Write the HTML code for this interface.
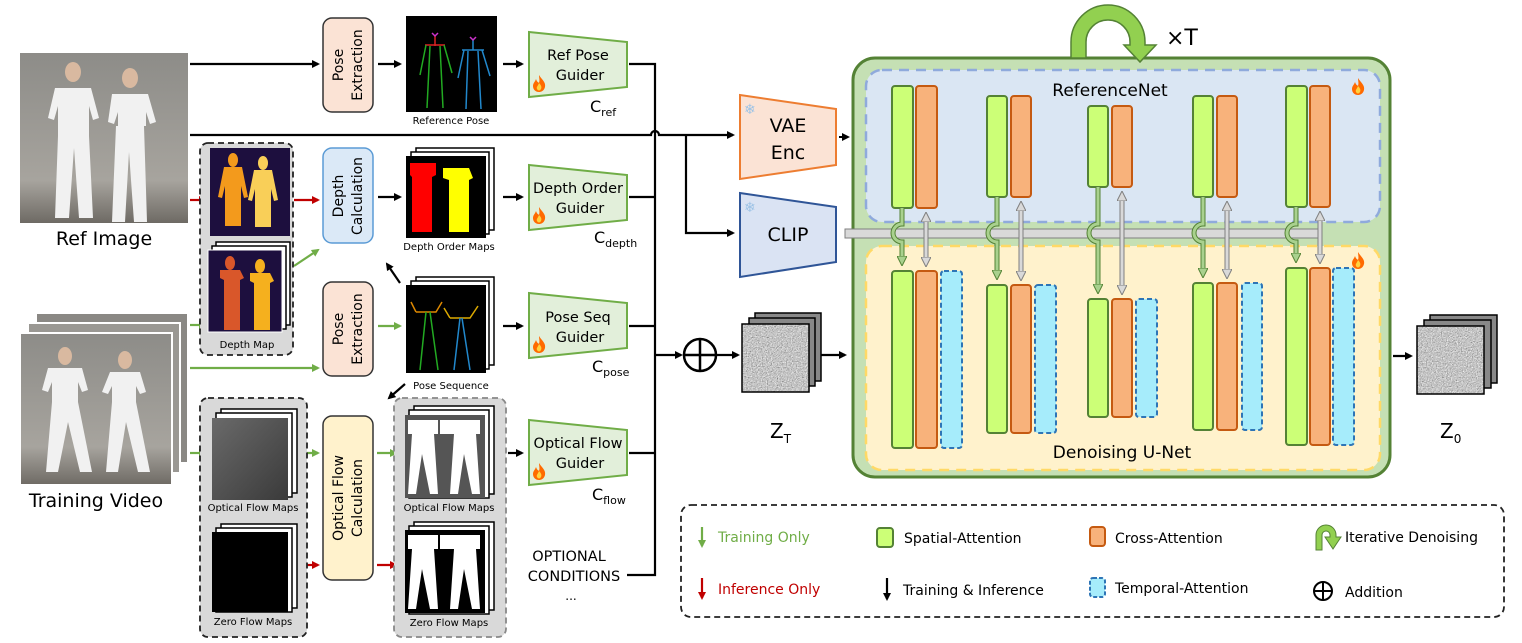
<!DOCTYPE html>
<html><head><meta charset="utf-8"><style>
html,body{margin:0;padding:0;background:#fff;}
svg{display:block;font-family:"DejaVu Sans","Liberation Sans",sans-serif;}
</style></head><body>
<svg width="1522" height="643" viewBox="0 0 1522 643" xmlns="http://www.w3.org/2000/svg">
<defs>
<marker id="ab" markerWidth="8" markerHeight="8" refX="6" refY="4" orient="auto" markerUnits="userSpaceOnUse"><path d="M0,0 L8,4 L0,8 z" fill="#000"/></marker>
<marker id="ag" markerWidth="8" markerHeight="8" refX="6" refY="4" orient="auto" markerUnits="userSpaceOnUse"><path d="M0,0 L8,4 L0,8 z" fill="#70ad47"/></marker>
<marker id="ar" markerWidth="8" markerHeight="8" refX="6" refY="4" orient="auto" markerUnits="userSpaceOnUse"><path d="M0,0 L8,4 L0,8 z" fill="#c00000"/></marker>
<marker id="agd" markerWidth="10" markerHeight="10" refX="7" refY="5" orient="auto" markerUnits="userSpaceOnUse"><path d="M0,0 L10,5 L0,10 z" fill="#a9d18e" stroke="#548235" stroke-width="1"/></marker>
<marker id="agr" markerWidth="10" markerHeight="10" refX="7" refY="5" orient="auto-start-reverse" markerUnits="userSpaceOnUse"><path d="M0,0 L10,5 L0,10 z" fill="#d9d9d9" stroke="#7f7f7f" stroke-width="1"/></marker>
<filter id="noise" x="0" y="0" width="100%" height="100%"><feTurbulence type="fractalNoise" baseFrequency="0.8" numOctaves="2"/><feColorMatrix type="matrix" values="0.6 0.6 0.6 0 -0.35  0.6 0.6 0.6 0 -0.35  0.6 0.6 0.6 0 -0.35  0 0 0 0 1"/></filter>
<linearGradient id="photo" x1="0" y1="0" x2="0" y2="1"><stop offset="0" stop-color="#8d8c88"/><stop offset="0.75" stop-color="#a7a49e"/><stop offset="1" stop-color="#6e6a64"/></linearGradient>
<linearGradient id="flowg" x1="0" y1="0" x2="1" y2="1"><stop offset="0" stop-color="#6a6a6a"/><stop offset="1" stop-color="#3a3a3a"/></linearGradient>
<g id="fire"><path d="M6,0 C9,5 13,7 12,12 C11,16 8,17 6,17 C2,17 0,14 0,11 C0,8 2,7 3,4 C4,7 5,7 6,8 C7,5 6,3 6,0z" fill="#ff6a00"/><path d="M6,8 C8,10 9,12 8,14 C7,16 5,16 4,14 C3,12 5,11 6,8z" fill="#ffd23f"/></g>
</defs>

<!-- ===== Ref image ===== -->
<rect x="20" y="53" width="168" height="170" fill="url(#photo)"/>
<g fill="#f1f1f1">
<ellipse cx="73" cy="72" rx="8" ry="10" fill="#d9b9a0"/>
<path d="M55,88 h36 l8,30 -6,2 -4,-14 v30 l4,82 h-14 l-5,-70 -5,70 h-14 l3,-82 v-30 l-4,14 -6,-2z"/>
<ellipse cx="130" cy="78" rx="8" ry="10" fill="#d9b9a0"/>
<path d="M112,94 h36 l8,28 -6,2 -4,-12 v14 h-28 v-14 l-4,12 -6,-2z"/>
<path d="M116,126 h28 l3,96 h-13 l-5,-70 -4,70 h-13z"/>
</g>
<text x="104" y="245" font-size="19" text-anchor="middle">Ref Image</text>

<!-- ===== Training video ===== -->
<rect x="36" y="313" width="152" height="150" fill="#8a8884" stroke="#fff" stroke-width="2"/>
<rect x="28" y="323" width="152" height="150" fill="#9a9893" stroke="#fff" stroke-width="2"/>
<rect x="20" y="333" width="152" height="152" fill="url(#photo)" stroke="#fff" stroke-width="2"/>
<g fill="#f1f1f1">
<ellipse cx="65" cy="356" rx="7" ry="9" fill="#d9b9a0"/>
<path d="M48,368 h34 l6,22 -6,2 -4,-10 v20 l14,70 h-12 l-12,-50 -10,50 h-12 l6,-70 v-20 l-4,10 -6,-2z"/>
<ellipse cx="125" cy="360" rx="7" ry="9" fill="#d9b9a0"/>
<path d="M110,372 h30 l6,20 -6,2 -4,-8 v16 l14,70 h-12 l-12,-50 -8,50 h-12 l6,-70 v-16 l-4,8 -6,-2z"/>
</g>
<text x="96" y="507" font-size="19" text-anchor="middle">Training Video</text>

<!-- ===== connectors from images ===== -->
<g stroke="#000" stroke-width="2.2" fill="none">
<line x1="190" y1="64" x2="318" y2="64" marker-end="url(#ab)"/>
<path d="M190,135 H651 a4,4 0 0,1 8,0 H686"/>
<path d="M686,135 H733" marker-end="url(#ab)"/>
<path d="M686,135 V233 H733" marker-end="url(#ab)"/>
</g>
<g stroke="#c00000" stroke-width="2.2">
<line x1="190" y1="200" x2="205" y2="200" marker-end="url(#ar)"/>
<line x1="294" y1="200" x2="318" y2="200" marker-end="url(#ar)"/>
<line x1="307" y1="565" x2="318" y2="565" marker-end="url(#ar)"/>
<line x1="377" y1="565" x2="396" y2="565" marker-end="url(#ar)"/>
</g>
<g stroke="#70ad47" stroke-width="2.2">
<line x1="190" y1="325" x2="205" y2="325" marker-end="url(#ag)"/>
<line x1="294" y1="266" x2="318" y2="250" marker-end="url(#ag)"/>
<line x1="190" y1="368" x2="318" y2="368" marker-end="url(#ag)"/>
<line x1="378" y1="326" x2="400" y2="326" marker-end="url(#ag)"/>
<line x1="190" y1="453" x2="205" y2="453" marker-end="url(#ag)"/>
<line x1="300" y1="453" x2="318" y2="453" marker-end="url(#ag)"/>
<line x1="377" y1="453" x2="396" y2="453" marker-end="url(#ag)"/>
</g>

<!-- ===== Pose extraction 1 ===== -->
<rect x="323" y="18" width="50" height="94" rx="9" fill="#fbe3d5" stroke="#333" stroke-width="1.5"/>
<text transform="translate(343,65) rotate(-90)" font-size="14" text-anchor="middle">Pose</text>
<text transform="translate(362,65) rotate(-90)" font-size="14" text-anchor="middle">Extraction</text>
<line x1="378" y1="64" x2="400" y2="64" stroke="#000" stroke-width="2.2" marker-end="url(#ab)"/>
<rect x="406" y="16" width="91" height="96" fill="#000"/>
<g stroke-width="1.5" fill="none">
<path d="M425,45 h20 M435,36 v10" stroke="#d22"/>
<path d="M426,45 l-6,30 M444,45 l8,28 M430,46 l-3,62 M440,46 l3,62" stroke="#2a2"/>
<path d="M462,50 h22 M473,40 v10 M464,50 l-6,28 M482,50 l8,26 M468,51 l-2,58 M478,51 l3,58" stroke="#28c"/>
<path d="M432,33 l3,3 3,-3 M470,37 l3,3 3,-3" stroke="#c3c"/>
</g>
<text x="451" y="124" font-size="10" text-anchor="middle">Reference Pose</text>
<line x1="503" y1="64" x2="522" y2="64" stroke="#000" stroke-width="2.2" marker-end="url(#ab)"/>

<!-- guiders -->
<g fill="#e2efda" stroke="#70ad47" stroke-width="2">
<polygon points="529,32 627,42 627,87 529,97"/>
<polygon points="529,165 627,175 627,220 529,230"/>
<polygon points="529,293 627,303 627,348 529,358"/>
<polygon points="529,420 627,430 627,475 529,485"/>
</g>
<g font-size="14.5" text-anchor="middle">
<text x="578" y="60">Ref Pose</text><text x="580" y="80">Guider</text>
<text x="578" y="193">Depth Order</text><text x="580" y="213">Guider</text>
<text x="578" y="322">Pose Seq</text><text x="580" y="342">Guider</text>
<text x="578" y="448">Optical Flow</text><text x="580" y="468">Guider</text>
</g>
<use href="#fire" x="533" y="75"/><use href="#fire" x="533" y="207"/><use href="#fire" x="533" y="336"/><use href="#fire" x="533" y="463"/>
<g font-size="16"><text x="590" y="112">C<tspan font-size="11" dy="4">ref</tspan></text>
<text x="594" y="243">C<tspan font-size="11" dy="4">depth</tspan></text>
<text x="592" y="372">C<tspan font-size="11" dy="4">pose</tspan></text>
<text x="592" y="500">C<tspan font-size="11" dy="4">flow</tspan></text></g>

<!-- collecting lines -->
<g stroke="#000" stroke-width="2.2" fill="none">
<path d="M629,64 H655 V575 H627"/>
<line x1="629" y1="197" x2="655" y2="197"/>
<line x1="629" y1="326" x2="655" y2="326"/>
<line x1="629" y1="453" x2="655" y2="453"/>
<line x1="655" y1="355" x2="681" y2="355" marker-end="url(#ab)"/>
<circle cx="700" cy="355" r="16" stroke-width="2.5"/>
<path d="M684,355 H716 M700,339 V371" stroke-width="2.5"/>
<line x1="716" y1="355" x2="738" y2="355" marker-end="url(#ab)"/>
<line x1="820" y1="355" x2="845" y2="355" marker-end="url(#ab)"/>
</g>

<!-- depth map box -->
<rect x="200" y="143" width="93" height="212" rx="8" fill="#d9d9d9" stroke="#222" stroke-width="1.8" stroke-dasharray="6,4"/>
<rect x="210" y="148" width="80" height="88" fill="#1d0f3e"/>
<g fill="#f39a1c"><ellipse cx="233" cy="160" rx="5" ry="7"/><path d="M224,167 h18 l6,30 -4,1 -3,-12 v40 h-16 v-40 l-3,12 -4,-1z"/></g>
<g fill="#f9cf58"><ellipse cx="263" cy="163" rx="5" ry="7"/><path d="M254,170 h18 l6,30 -4,1 -3,-12 v38 h-16 v-38 l-3,12 -4,-1z"/></g>
<rect x="216" y="242" width="74" height="83" fill="#fff" stroke="#000" stroke-width="1.5"/>
<rect x="212" y="246" width="74" height="83" fill="#fff" stroke="#000" stroke-width="1.5"/>
<rect x="208" y="250" width="74" height="82" fill="#1d0f3e" stroke="#fff" stroke-width="1"/>
<g fill="#d9572a"><ellipse cx="230" cy="263" rx="5" ry="7"/><path d="M220,270 h20 l4,8 -4,2 v50 h-16 v-50 l-4,-2z"/></g>
<g fill="#f5b01e"><ellipse cx="260" cy="266" rx="5" ry="7"/><path d="M250,273 h20 l4,8 -4,2 v47 h-16 v-47 l-4,-2z"/></g>
<text x="247" y="348" font-size="10" text-anchor="middle">Depth Map</text>

<!-- depth calc -->
<rect x="323" y="148" width="50" height="95" rx="9" fill="#dbe9f7" stroke="#5b9bd5" stroke-width="1.5"/>
<text transform="translate(343,196) rotate(-90)" font-size="14" text-anchor="middle">Depth</text>
<text transform="translate(362,196) rotate(-90)" font-size="14" text-anchor="middle">Calculation</text>
<line x1="378" y1="197" x2="400" y2="197" stroke="#000" stroke-width="2.2" marker-end="url(#ab)"/>
<rect x="416" y="148" width="78" height="82" fill="#fff" stroke="#000" stroke-width="1.5"/>
<rect x="411" y="152" width="78" height="82" fill="#fff" stroke="#000" stroke-width="1.5"/>
<rect x="406" y="156" width="80" height="82" fill="#000"/>
<path d="M410,163 h26 v12 l-4,2 v55 h-20 v-55 l-2,-2z" fill="#f00"/>
<path d="M443,168 h26 l4,10 -4,2 v52 h-20 v-52 l-6,-2z" fill="#ff0"/>
<text x="449" y="250" font-size="10" text-anchor="middle">Depth Order Maps</text>
<line x1="503" y1="197" x2="522" y2="197" stroke="#000" stroke-width="2.2" marker-end="url(#ab)"/>
<line x1="400" y1="283" x2="387" y2="264" stroke="#000" stroke-width="2.2" marker-end="url(#ab)"/>

<!-- pose extraction 2 -->
<rect x="323" y="282" width="50" height="94" rx="9" fill="#fbe3d5" stroke="#333" stroke-width="1.5"/>
<text transform="translate(343,329) rotate(-90)" font-size="14" text-anchor="middle">Pose</text>
<text transform="translate(362,329) rotate(-90)" font-size="14" text-anchor="middle">Extraction</text>
<rect x="416" y="277" width="78" height="88" fill="#fff" stroke="#000" stroke-width="1.5"/>
<rect x="411" y="281" width="78" height="88" fill="#fff" stroke="#000" stroke-width="1.5"/>
<rect x="406" y="285" width="80" height="88" fill="#000"/>
<g stroke-width="1.5" fill="none">
<path d="M416,312 h20 l6,-10 M416,312 l-5,-10" stroke="#d80"/>
<path d="M426,312 l-6,58 M430,312 l8,58" stroke="#2a2"/>
<path d="M450,318 h20 l8,-12 M450,318 l-6,-10" stroke="#da0"/>
<path d="M460,318 l-6,52 M462,318 l8,52" stroke="#28c"/>
</g>
<text x="451" y="389" font-size="10" text-anchor="middle">Pose Sequence</text>
<line x1="503" y1="326" x2="522" y2="326" stroke="#000" stroke-width="2.2" marker-end="url(#ab)"/>
<line x1="405" y1="384" x2="389" y2="398" stroke="#000" stroke-width="2.2" marker-end="url(#ab)"/>

<!-- optical flow left -->
<rect x="200" y="398" width="107" height="239" rx="8" fill="#d9d9d9" stroke="#222" stroke-width="1.8" stroke-dasharray="6,4"/>
<rect x="221" y="409" width="76" height="84" fill="#fff" stroke="#000" stroke-width="1.5"/>
<rect x="216" y="413" width="76" height="84" fill="#fff" stroke="#000" stroke-width="1.5"/>
<rect x="212" y="418" width="76" height="82" fill="url(#flowg)"/>
<text x="253" y="511" font-size="10" text-anchor="middle">Optical Flow Maps</text>
<rect x="221" y="524" width="76" height="84" fill="#fff" stroke="#000" stroke-width="1.5"/>
<rect x="216" y="528" width="76" height="84" fill="#fff" stroke="#000" stroke-width="1.5"/>
<rect x="212" y="532" width="76" height="80" fill="#000"/>
<text x="253" y="625" font-size="10" text-anchor="middle">Zero Flow Maps</text>

<!-- OFC -->
<rect x="323" y="416" width="50" height="164" rx="9" fill="#fff2cc" stroke="#333" stroke-width="1.5"/>
<text transform="translate(343,498) rotate(-90)" font-size="14" text-anchor="middle">Optical Flow</text>
<text transform="translate(362,498) rotate(-90)" font-size="14" text-anchor="middle">Calculation</text>

<!-- optical flow right -->
<rect x="394" y="398" width="112" height="239" rx="8" fill="#d9d9d9" stroke="#888" stroke-width="1.8" stroke-dasharray="6,4"/>
<rect x="414" y="406" width="80" height="88" fill="#fff" stroke="#000" stroke-width="1.5"/>
<rect x="409" y="410" width="80" height="88" fill="#fff" stroke="#000" stroke-width="1.5"/>
<rect x="405" y="415" width="80" height="83" fill="#555"/>
<g fill="#fff"><path d="M408,420 h30 v14 h-4 l4,60 h-8 l-8,-40 -6,40 h-8 l4,-60 h-4z"/><path d="M440,420 h40 v14 h-4 l4,60 h-8 l-8,-40 -6,40 h-8 l4,-60 h-14z"/></g>
<text x="449" y="511" font-size="10" text-anchor="middle">Optical Flow Maps</text>
<rect x="414" y="522" width="80" height="88" fill="#fff" stroke="#000" stroke-width="1.5"/>
<rect x="409" y="526" width="80" height="88" fill="#fff" stroke="#000" stroke-width="1.5"/>
<rect x="405" y="530" width="80" height="83" fill="#000"/>
<g fill="#fff"><path d="M408,535 h30 v14 h-4 l4,60 h-8 l-8,-40 -6,40 h-8 l4,-60 h-4z"/><path d="M440,535 h40 v14 h-4 l4,60 h-8 l-8,-40 -6,40 h-8 l4,-60 h-14z"/></g>
<text x="449" y="626" font-size="10" text-anchor="middle">Zero Flow Maps</text>
<line x1="508" y1="453" x2="522" y2="453" stroke="#000" stroke-width="2.2" marker-end="url(#ab)"/>

<text x="569" y="561" font-size="14.5" text-anchor="middle">OPTIONAL</text>
<text x="574" y="581" font-size="14.5" text-anchor="middle">CONDITIONS</text>
<text x="571" y="600" font-size="12" text-anchor="middle">...</text>

<!-- VAE / CLIP -->
<polygon points="740,95 836,109 836,165 740,179" fill="#fbe3d5" stroke="#ed7d31" stroke-width="2"/>
<text x="788" y="132" font-size="19" text-anchor="middle">VAE</text>
<text x="788" y="159" font-size="19" text-anchor="middle">Enc</text>
<text x="744" y="114" font-size="14" fill="#9dc3e6">❄</text>
<polygon points="740,193 836,207 836,262 740,277" fill="#dae3f3" stroke="#2f5597" stroke-width="2"/>
<text x="788" y="241" font-size="19" text-anchor="middle">CLIP</text>
<text x="744" y="212" font-size="14" fill="#9dc3e6">❄</text>
<line x1="839" y1="137" x2="848" y2="137" stroke="#000" stroke-width="2" marker-end="url(#ab)"/>

<!-- noise stacks -->
<g stroke="#000" stroke-width="1.5">
<rect x="755" y="313" width="66" height="68" fill="#888"/>
<rect x="749" y="318" width="66" height="68" fill="#888"/>
<rect x="742" y="324" width="67" height="68" fill="#888" filter="url(#noise)"/>
<rect x="742" y="324" width="67" height="68" fill="none"/>
<rect x="1430" y="315" width="67" height="68" fill="#888"/>
<rect x="1424" y="320" width="67" height="68" fill="#888"/>
<rect x="1417" y="326" width="67" height="68" fill="#888" filter="url(#noise)"/>
<rect x="1417" y="326" width="67" height="68" fill="none"/>
</g>
<text x="770" y="438" font-size="20">Z<tspan font-size="12" dy="5">T</tspan></text>
<text x="1440" y="438" font-size="20">Z<tspan font-size="12" dy="5">0</tspan></text>
<line x1="1393" y1="356" x2="1411" y2="356" stroke="#000" stroke-width="2.2" marker-end="url(#ab)"/>

<!-- big container -->
<rect x="853" y="58" width="537" height="419" rx="22" fill="#c5e0b4" stroke="#548235" stroke-width="3"/>
<rect x="866" y="70" width="514" height="152" rx="16" fill="#dae6f3" stroke="#8faadc" stroke-width="2.5" stroke-dasharray="10,7"/>
<rect x="866" y="246" width="514" height="224" rx="16" fill="#fff2cc" stroke="#ffd966" stroke-width="2.5" stroke-dasharray="10,7"/>
<text x="1110" y="96" font-size="17" text-anchor="middle">ReferenceNet</text>
<text x="1122" y="458" font-size="17" text-anchor="middle">Denoising U-Net</text>
<use href="#fire" x="1352" y="78"/><use href="#fire" x="1352" y="252"/>

<!-- loop -->
<path d="M1071,58 V42 A37,37 0 0,1 1145,42 V45 H1156 L1140,62 1124,45 H1130 V42 A22,22 0 0,0 1086,42 V58z" fill="#92d050" stroke="#548235" stroke-width="1.5"/>
<text x="1166" y="45" font-size="22">×T</text>

<!-- gray bar -->
<rect x="845" y="229" width="476" height="9" fill="#d9d9d9" stroke="#7f7f7f" stroke-width="1"/>

<!-- columns -->
<g stroke-width="2">
<g fill="#ccff77" stroke="#548235">
<rect x="892" y="86" width="21" height="122" rx="3"/><rect x="892" y="271" width="21" height="177" rx="3"/>
<rect x="987" y="96" width="20" height="101" rx="3"/><rect x="987" y="285" width="20" height="148" rx="3"/>
<rect x="1088" y="106" width="20" height="81" rx="3"/><rect x="1088" y="299" width="20" height="118" rx="3"/>
<rect x="1193" y="96" width="20" height="101" rx="3"/><rect x="1193" y="283" width="20" height="147" rx="3"/>
<rect x="1286" y="86" width="21" height="121" rx="3"/><rect x="1286" y="268" width="21" height="177" rx="3"/>
</g>
<g fill="#f8b27b" stroke="#c55a11">
<rect x="916" y="86" width="21" height="122" rx="3"/><rect x="916" y="271" width="21" height="177" rx="3"/>
<rect x="1011" y="96" width="20" height="101" rx="3"/><rect x="1011" y="285" width="20" height="148" rx="3"/>
<rect x="1112" y="106" width="20" height="81" rx="3"/><rect x="1112" y="299" width="20" height="118" rx="3"/>
<rect x="1217" y="96" width="20" height="101" rx="3"/><rect x="1217" y="283" width="20" height="147" rx="3"/>
<rect x="1310" y="86" width="20" height="121" rx="3"/><rect x="1310" y="268" width="20" height="177" rx="3"/>
</g>
<g fill="#a6ecfb" stroke="#2e75b6" stroke-dasharray="5,3">
<rect x="941" y="271" width="21" height="177" rx="3"/>
<rect x="1035" y="285" width="21" height="148" rx="3"/>
<rect x="1136" y="299" width="21" height="118" rx="3"/>
<rect x="1242" y="283" width="20" height="147" rx="3"/>
<rect x="1333" y="268" width="21" height="177" rx="3"/>
</g>
</g>
<!-- inter arrows -->
<g fill="none">
<g stroke="#548235" stroke-width="5">
<path d="M902,208 V224 a9,9 0 0,0 0,18 V262"/><path d="M997,197 V224 a9,9 0 0,0 0,18 V276"/><path d="M1098,187 V224 a9,9 0 0,0 0,18 V290"/><path d="M1203,197 V224 a9,9 0 0,0 0,18 V274"/><path d="M1296,207 V224 a9,9 0 0,0 0,18 V259"/>
</g>
<g stroke="#a9d18e" stroke-width="3" marker-end="url(#agd)">
<path d="M902,208 V224 a9,9 0 0,0 0,18 V263"/><path d="M997,197 V224 a9,9 0 0,0 0,18 V277"/><path d="M1098,187 V224 a9,9 0 0,0 0,18 V291"/><path d="M1203,197 V224 a9,9 0 0,0 0,18 V275"/><path d="M1296,207 V224 a9,9 0 0,0 0,18 V260"/>
</g>
<g stroke="#7f7f7f" stroke-width="5">
<path d="M926,216 V263"/><path d="M1021,205 V277"/><path d="M1122,195 V291"/><path d="M1227,205 V275"/><path d="M1320,215 V260"/>
</g>
<g stroke="#d9d9d9" stroke-width="3" marker-start="url(#agr)" marker-end="url(#agr)">
<path d="M926,215 V264"/><path d="M1021,204 V278"/><path d="M1122,194 V292"/><path d="M1227,204 V276"/><path d="M1320,214 V261"/>
</g>
</g>

<!-- legend -->
<rect x="681" y="505" width="823" height="112" rx="10" fill="#fff" stroke="#222" stroke-width="1.8" stroke-dasharray="6,4"/>
<line x1="702" y1="527" x2="702" y2="546" stroke="#70ad47" stroke-width="2.2" marker-end="url(#ag)"/>
<text x="718" y="542" font-size="14" fill="#70ad47">Training Only</text>
<line x1="702" y1="578" x2="702" y2="598" stroke="#c00000" stroke-width="2.2" marker-end="url(#ar)"/>
<text x="718" y="594" font-size="14" fill="#c00000">Inference Only</text>
<rect x="877" y="528" width="16" height="19" rx="3" fill="#ccff77" stroke="#548235" stroke-width="2"/>
<text x="904" y="543" font-size="14">Spatial-Attention</text>
<line x1="887" y1="578" x2="887" y2="599" stroke="#000" stroke-width="2.2" marker-end="url(#ab)"/>
<text x="903" y="595" font-size="14">Training &amp; Inference</text>
<rect x="1090" y="527" width="15" height="19" rx="3" fill="#f8b27b" stroke="#c55a11" stroke-width="2"/>
<text x="1115" y="543" font-size="14">Cross-Attention</text>
<rect x="1090" y="578" width="15" height="19" rx="3" fill="#a6ecfb" stroke="#2e75b6" stroke-width="2" stroke-dasharray="4,2"/>
<text x="1115" y="593" font-size="14">Temporal-Attention</text>
<path d="M1316,550 V535 A10,10 0 0,1 1336,535 V537 H1341 L1333,549 1325,537 H1330 V535 A4,4 0 0,0 1322,535 V550z" fill="#92d050" stroke="#548235" stroke-width="1"/>
<text x="1345" y="542" font-size="14">Iterative Denoising</text>
<circle cx="1323" cy="591" r="9" fill="none" stroke="#000" stroke-width="2"/>
<path d="M1314,591 H1332 M1323,582 V600" stroke="#000" stroke-width="2"/>
<text x="1345" y="597" font-size="14">Addition</text>
</svg>
</body></html>
